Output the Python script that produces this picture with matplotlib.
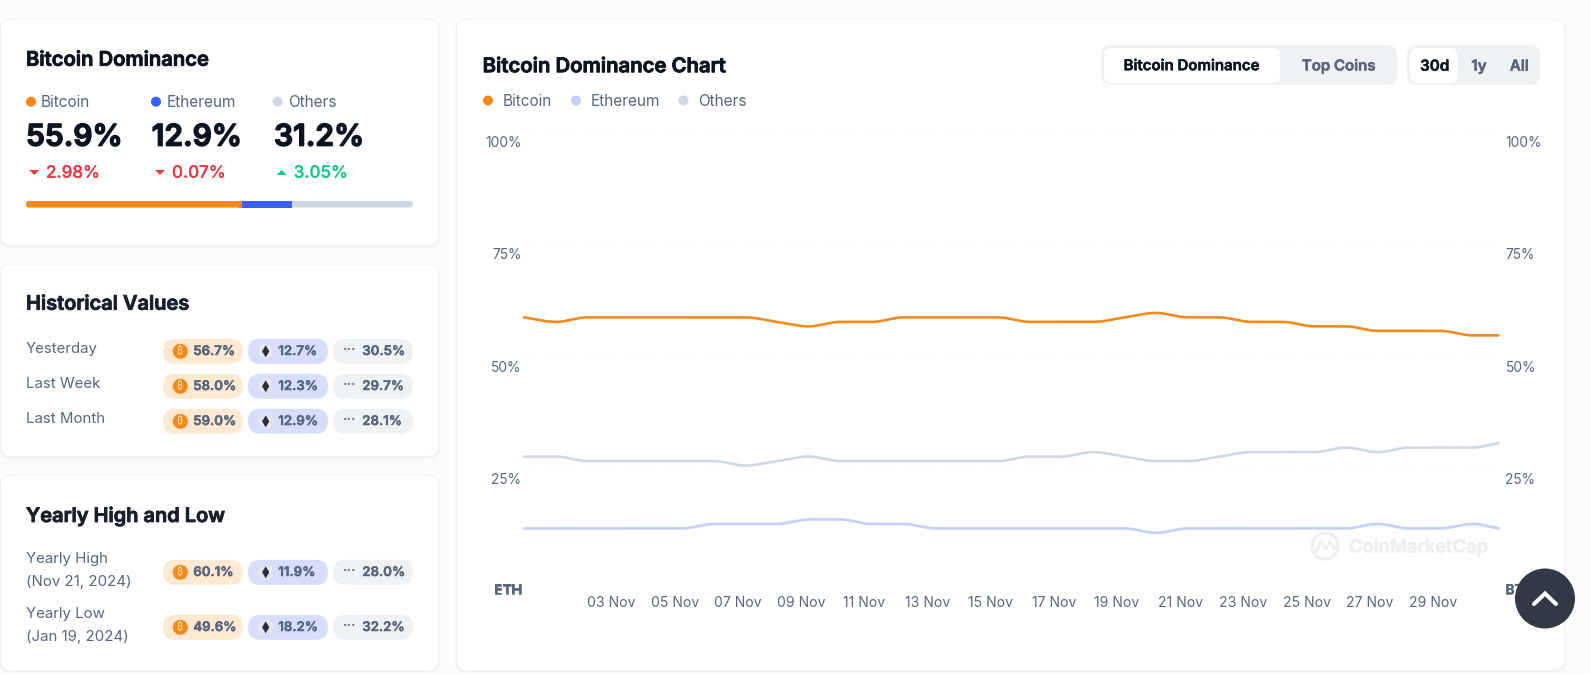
import numpy as np
import matplotlib
matplotlib.use("Agg")
import matplotlib.pyplot as plt
import matplotlib.patheffects as pe
from matplotlib.patches import FancyBboxPatch, Circle, Polygon, Rectangle
from matplotlib.transforms import ScaledTranslation

plt.rcParams['font.family'] = ['Inter', 'DejaVu Sans']

# ---- data ----
days = list(range(31)) + [30.83]
btc = [59,58,59,59,59,59,59,59,58,57,58,58,59,59,59,59,58,58,58,59,60,59,59,58,58,57,57,56,56,56,55,55]
eth = [12,12,12,12,12,12,13,13,13,14,14,13,13,12,12,12,12,12,12,12,11,12,12,12,12,12,12,13,12,12,13,12]
oth = [28,28,27,27,27,27,27,26,27,28,27,27,27,27,27,27,28,28,29,28,27,27,28,29,29,29,30,29,30,30,30,31]
tick_days = [2,4,6,8,10,12,14,16,18,20,22,24,26,28]
tick_labels = ['03 Nov','05 Nov','07 Nov','09 Nov','11 Nov','13 Nov','15 Nov','17 Nov',
               '19 Nov','21 Nov','23 Nov','25 Nov','27 Nov','29 Nov']
y_ticks = [0,25,50,75,100]
y_left = ['ETH','25%','50%','75%','100%']
y_right = ['BTC','25%','50%','75%','100%']

names = ['Bitcoin','Ethereum','Others']
current = ['55.9%','12.9%','31.2%']
changes = ['2.98%','0.07%','3.05%']
change_dir = [-1,-1,1]
shares = [55.9,12.9,31.2]

hist_labels = ['Yesterday','Last Week','Last Month']
hist_values = [['56.7%','12.7%','30.5%'],['58.0%','12.3%','29.7%'],['59.0%','12.9%','28.1%']]
year_labels = [('Yearly High','(Nov 21, 2024)'),('Yearly Low','(Jan 19, 2024)')]
year_values = [['60.1%','11.9%','28.0%'],['49.6%','18.2%','32.2%']]

# ---- style ----
ORANGE='#f68819'; BLUE='#3861fb'; GREY='#cfd6e4'; LBLUE='#c0d0fd'
DARK='#0d1421'; SLATE='#58667e'; RED='#ea3943'; GREEN='#16c784'
W,H=1591,674
PX=0.72

def smooth(x,y,n=20):
    x=np.asarray(x,float); y=np.asarray(y,float)
    d=np.diff(y)/np.diff(x)
    m=np.zeros_like(y)
    m[0]=d[0]; m[-1]=d[-1]
    for i in range(1,len(y)-1):
        m[i]=0 if d[i-1]*d[i]<=0 else 2*d[i-1]*d[i]/(d[i-1]+d[i])
    xs=[];ys=[]
    for i in range(len(x)-1):
        h=x[i+1]-x[i]
        t=np.linspace(0,1,n,endpoint=False)
        ys.append((2*t**3-3*t**2+1)*y[i]+(t**3-2*t**2+t)*h*m[i]+(-2*t**3+3*t**2)*y[i+1]+(t**3-t**2)*h*m[i+1])
        xs.append(x[i]+t*h)
    return np.r_[np.concatenate(xs),x[-1]],np.r_[np.concatenate(ys),y[-1]]

fig=plt.figure(figsize=(W/100,H/100),dpi=100,facecolor='#fbfbfc')
bg=fig.add_axes([0,0,1,1],zorder=0)
bg.set_xlim(0,W); bg.set_ylim(H,0); bg.axis('off')
top=fig.add_axes([0,0,1,1],zorder=5)
top.set_xlim(0,W); top.set_ylim(H,0); top.axis('off'); top.patch.set_alpha(0)

def rbox(ax,x0,y0,x1,y1,r,color,z=1,**kw):
    ax.add_patch(FancyBboxPatch((x0,y0),x1-x0,y1-y0,boxstyle=f'round,pad=0,rounding_size={r}',
                                fc=color,ec='none',zorder=z,**kw))
def txt(ax,x,y,s,px,color,weight='normal',ha='left',va='center',stroke=0,**kw):
    t=ax.text(x,y+1.7,s,fontsize=px*PX,color=color,fontweight=weight,ha=ha,va=va,**kw)
    if stroke:
        t.set_path_effects([pe.withStroke(linewidth=stroke,foreground=color)])
    return t

def card(x0,y0,x1,y1):
    for g,a in ((3,0.012),(2,0.02),(1,0.03)):
        rbox(bg,x0-g,y0-g+1,x1+g,y1+g+1,10+g,'#58667e',z=1,alpha=a)
    rbox(bg,x0,y0,x1,y1,10,'white',z=2)

card(1,20,438,245); card(1,265,438,456); card(1,476,438,670); card(457,20,1564,670)

# ---- top-left card ----
txt(bg,26,59,'Bitcoin Dominance',20.2,DARK,'semibold',stroke=0.6,zorder=3)
col_dot=[31,156,277.7]; col_txt=[40.7,166.7,288.3]; col_big=[26,151.7,274]
col_tri=[34.3,160,281.7]; col_chg=[46,172,293.7]
for i,c in enumerate([ORANGE,BLUE,GREY]):
    bg.add_patch(Circle((col_dot[i],101.7),5,fc=c,ec='none',zorder=3))
    txt(bg,col_txt[i],101,names[i],15.4,SLATE,zorder=3)
    txt(bg,col_big[i],136,current[i],30,DARK,'semibold',stroke=1.0,zorder=3)
    tx=col_tri[i]; ty=172.5; s=change_dir[i]
    col=GREEN if s>0 else RED
    bg.add_patch(Polygon([(tx-5,ty-2.5*s*-1),(tx+5,ty-2.5*s*-1),(tx,ty-2.5*s)],fc=col,ec='none',zorder=3))
    txt(bg,col_chg[i],171.5,changes[i],17,col,'medium',stroke=0.12,zorder=3)
L=387.0
rbox(bg,26,201,413,207.5,3.2,GREY,z=3)
bw=[v/sum(shares)*L for v in shares]
rbox(bg,26,201,26+bw[0],207.5,3.2,ORANGE,z=3)
bg.add_patch(Rectangle((26+bw[0]-4,201),4,6.5,fc=ORANGE,ec='none',zorder=3))
bg.add_patch(Rectangle((26+bw[0],201),bw[1],6.5,fc=BLUE,ec='none',zorder=3))

# ---- pills ----
BTC_FONTS=['Noto Sans','Roboto','Open Sans','Lato','DejaVu Sans']
def pills(yc,vals):
    x0=[163,248,333]; x1=[242.7,328,413]
    cols=['#fde8d2','#d6defc','#eff2f5']
    for k in range(3):
        rbox(bg,x0[k],yc-12.5,x1[k],yc+12.5,12.5,cols[k],z=3)
    bg.add_patch(Circle((180.3,yc),7.5,fc=ORANGE,ec='none',zorder=4))
    bg.text(180.3,yc,'\u20bf',fontsize=7.5,color='#ffd9a8',ha='center',va='center',family=BTC_FONTS,zorder=5)
    bg.add_patch(Circle((265.7,yc),7.5,fc='#e4e6ea',ec='none',zorder=4))
    bg.add_patch(Polygon([(265.7,yc-6),(269.3,yc),(265.7,yc+6),(262.1,yc)],fc='#2a2e38',ec='none',zorder=5))
    txt(bg,349.7,yc-3,'\u00b7\u00b7\u00b7',13,SLATE,'bold',ha='center',zorder=4)
    for tx,s in zip([193.3,278.3,362.3],vals):
        txt(bg,tx,yc-1,s,13.2,SLATE,'semibold',stroke=0.35,zorder=4)

txt(bg,26,303,'Historical Values',20,'#1a1f2b','semibold',stroke=0.6,zorder=3)
for lab,y0,vals in zip(hist_labels,[347.7,382.7,417.7],hist_values):
    txt(bg,26,y0,lab,15,SLATE,zorder=3)
    pills(y0+3.6,vals)
txt(bg,26,515,'Yearly High and Low',20,'#1a1f2b','semibold',stroke=0.6,zorder=3)
for (a,b),y0,vals in zip(year_labels,[557.7,612.7],year_values):
    txt(bg,26,y0,a,15,SLATE,zorder=3)
    txt(bg,26,y0+23,b,15,SLATE,zorder=3)
    pills(y0+14.6,vals)

# ---- main header ----
txt(bg,482.6,65.5,'Bitcoin Dominance Chart',20.3,DARK,'semibold',stroke=0.6,zorder=3)
for dx,tx,c,n in zip([488,576,683.4],[503,591,698.6],[ORANGE,LBLUE,GREY],names):
    bg.add_patch(Circle((dx,100.5),5,fc=c,ec='none',zorder=3))
    txt(bg,tx,100,n,15.4,SLATE,zorder=3)
rbox(bg,1101,45,1397,85,10,'#eff2f5',z=3)
rbox(bg,1104,48,1280,83,8,'white',z=4)
txt(bg,1191.7,64.5,'Bitcoin Dominance',15,DARK,'semibold',stroke=0.35,ha='center',zorder=5)
txt(bg,1338.7,64.5,'Top Coins',15,SLATE,'semibold',stroke=0.35,ha='center',zorder=5)
rbox(bg,1407,45,1540,85,10,'#eff2f5',z=3)
rbox(bg,1410,48,1458,83,8,'white',z=4)
txt(bg,1434.7,64.5,'30d',15.2,DARK,'semibold',stroke=0.35,ha='center',zorder=5)
txt(bg,1479,64.5,'1y',15.2,SLATE,'semibold',stroke=0.35,ha='center',zorder=5)
txt(bg,1519.3,64.5,'All',15.2,SLATE,'semibold',stroke=0.35,ha='center',zorder=5)

# ---- watermark ----
bg.add_patch(Circle((1325,546),13,fc='none',ec='#efefef',lw=2.2,zorder=3))
txt(bg,1349,546,'CoinMarketCap',18.4,'#efefef','semibold',stroke=0.4,zorder=3)
bg.plot([1316,1321,1326,1330,1334,1337],[552,541,549,541,549,546],color='#efefef',lw=2,zorder=3,solid_joinstyle='round')

# ---- main chart ----
ax_x0,ax_x1,ax_y0,ax_y1=524.2,1498.5,133.3,582.3
ax=fig.add_axes([ax_x0/W,1-ax_y1/H,(ax_x1-ax_x0)/W,(ax_y1-ax_y0)/H],zorder=3)
ax.patch.set_alpha(0)
ax.set_xlim(0,days[-1]); ax.set_ylim(0,100)
for s in ax.spines.values(): s.set_visible(False)
ax.set_yticks(y_ticks); ax.set_yticklabels(y_left)
ax.grid(axis='y',color='#d8dde6',lw=1*PX,linestyle=(0,(1,9)))
ax.set_axisbelow(True)
ax.set_xticks([d+0.76 for d in tick_days]); ax.set_xticklabels(tick_labels)
ax.tick_params(axis='x',length=0,pad=9.8,labelsize=14*PX,labelcolor=SLATE)
ax.tick_params(axis='y',length=0,pad=2,labelsize=13.8*PX,labelcolor=SLATE)
for series,c in ((oth,GREY),(eth,LBLUE),(btc,ORANGE)):
    xs,ys=smooth(days,series)
    ax.plot(xs,ys,color=c,lw=2.6*PX,solid_capstyle='round',clip_on=False)
axr=ax.twinx()
axr.patch.set_alpha(0)
axr.set_ylim(0,100); axr.set_yticks(y_ticks); axr.set_yticklabels(y_right)
for s in axr.spines.values(): s.set_visible(False)
axr.tick_params(axis='y',length=0,pad=5,labelsize=13.8*PX,labelcolor=SLATE)
for a in (ax,axr):
    labs=a.get_yticklabels()
    for i,t in enumerate(labs):
        t.set_va('top')
        dy=0.01 if i==0 else 0.027
        t.set_transform(t.get_transform()+ScaledTranslation(0,-dy,fig.dpi_scale_trans))
    labs[0].set_fontweight('semibold')
    labs[0].set_path_effects([pe.withStroke(linewidth=0.4,foreground=SLATE)])

# ---- scroll button ----
top.add_patch(Circle((1545,598.5),30,fc='#323846',ec='none'))
top.plot([1534,1545,1556],[604,593.5,604],color='white',lw=4*PX,solid_capstyle='round',solid_joinstyle='miter')

fig.savefig('out.png',dpi=100,facecolor=fig.get_facecolor())
